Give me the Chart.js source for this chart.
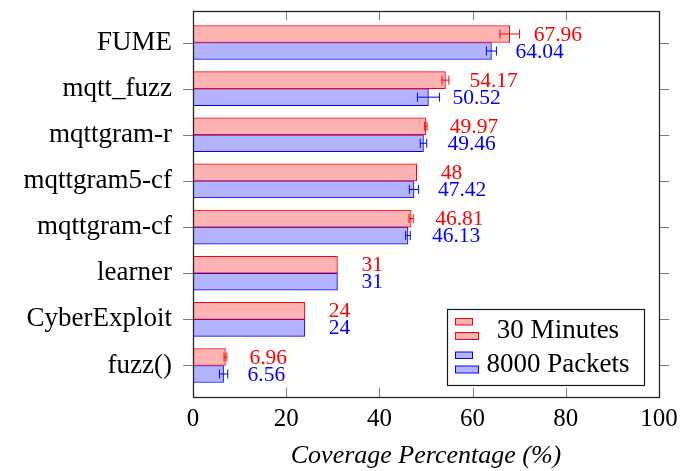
<!DOCTYPE html>
<html>
<head>
<meta charset="utf-8">
<script src="https://cdn.jsdelivr.net/npm/chart.js@4/dist/chart.umd.min.js"></script>
<style>
  html, body { margin: 0; padding: 0; background: #ffffff; }
  #wrap { width: 681px; height: 471px; position: relative; }
</style>
</head>
<body>
<div id="wrap"><canvas id="c" width="681" height="471"></canvas></div>
<script>
const categories = ['FUME', 'mqtt_fuzz', 'mqttgram-r', 'mqttgram5-cf', 'mqttgram-cf', 'learner', 'CyberExploit', 'fuzz()'];
const minutes30 = [67.96, 54.17, 49.97, 48, 46.81, 31, 24, 6.96];
const packets8000 = [64.04, 50.52, 49.46, 47.42, 46.13, 31, 24, 6.56];
const minutes30Err = [2.1, 0.75, 0.25, 0, 0.45, 0, 0, 0.3];
const packets8000Err = [1.07, 2.36, 0.7, 1.0, 0.5, 0, 0, 0.9];
const xTickValues = [0, 20, 40, 60, 80, 100];
const seriesNames = ['30 Minutes', '8000 Packets'];

const SERIF = "'Liberation Serif', 'Times New Roman', serif";
const RED = '#ff0000', RED_FILL = '#ffb3b3';
const BLUE = '#0000ff', BLUE_FILL = '#b3b3ff';

const toPoints = arr => arr.map((v, i) => ({ x: v, y: i }));

const frameAndTicks = {
  id: 'frameAndTicks',
  afterDatasetsDraw(chart) {
    const { ctx, chartArea: a, scales } = chart;
    const xs = scales.x, ys = scales.y;
    ctx.save();
    ctx.strokeStyle = '#7f7f7f';
    ctx.lineWidth = 1;
    ctx.beginPath();
    xTickValues.forEach(v => {
      const px = Math.round(xs.getPixelForValue(v)) + 0.5;
      ctx.moveTo(px, a.bottom); ctx.lineTo(px, a.bottom - 9);
      ctx.moveTo(px, a.top); ctx.lineTo(px, a.top + 9);
    });
    categories.forEach((c, i) => {
      const py = Math.round(ys.getPixelForValue(i)) + 0.5;
      ctx.moveTo(a.left - 10, py); ctx.lineTo(a.left, py);
      ctx.moveTo(a.right, py); ctx.lineTo(a.right + 10, py);
    });
    ctx.stroke();
    ctx.strokeStyle = '#262626';
    ctx.lineWidth = 1.3;
    ctx.strokeRect(Math.round(a.left) + 0.5, Math.round(a.top) + 0.5,
                   Math.round(a.right - a.left), Math.round(a.bottom - a.top));
    ctx.restore();
  }
};

const errorsAndLabels = {
  id: 'errorsAndLabels',
  afterDatasetsDraw(chart) {
    const { ctx, scales } = chart;
    const xs = scales.x;
    const errs = [minutes30Err, packets8000Err];
    const vals = [minutes30, packets8000];
    const cols = [RED, BLUE];
    ctx.save();
    chart.data.datasets.forEach((ds, di) => {
      const meta = chart.getDatasetMeta(di);
      meta.data.forEach((el, i) => {
        const v = vals[di][i], e = errs[di][i];
        const cy = el.y;
        ctx.strokeStyle = cols[di];
        ctx.lineWidth = 1;
        if (e > 0) {
          const x1 = xs.getPixelForValue(v - e), x2 = xs.getPixelForValue(v + e);
          ctx.beginPath();
          ctx.moveTo(x1, cy); ctx.lineTo(x2, cy);
          ctx.moveTo(x1, cy - 4.5); ctx.lineTo(x1, cy + 4.5);
          ctx.moveTo(x2, cy - 4.5); ctx.lineTo(x2, cy + 4.5);
          ctx.stroke();
        }
        ctx.fillStyle = cols[di];
        ctx.font = "21.5px " + SERIF;
        ctx.textAlign = 'left';
        ctx.textBaseline = 'middle';
        ctx.fillText(String(v), xs.getPixelForValue(v) + 24, cy + 1);
      });
    });
    ctx.restore();
  }
};

const boxLegend = {
  id: 'boxLegend',
  afterDraw(chart) {
    const { ctx } = chart;
    ctx.save();
    const bx = 447.5, by = 309.5, bw = 197, bh = 76;
    ctx.fillStyle = '#ffffff';
    ctx.fillRect(bx, by, bw, bh);
    ctx.strokeStyle = '#1a1a1a';
    ctx.lineWidth = 1.2;
    ctx.strokeRect(bx, by, bw, bh);
    const entries = [
      { name: seriesNames[0], stroke: RED, fill: RED_FILL, y: 318 },
      { name: seriesNames[1], stroke: BLUE, fill: BLUE_FILL, y: 351.5 }
    ];
    entries.forEach(en => {
      ctx.fillStyle = en.fill;
      ctx.strokeStyle = en.stroke;
      ctx.lineWidth = 1;
      ctx.fillRect(455.5, en.y + 0.5, 17, 6.5);
      ctx.strokeRect(455.5, en.y + 0.5, 17, 6.5);
      ctx.fillRect(455.5, en.y + 14.5, 23, 7);
      ctx.strokeRect(455.5, en.y + 14.5, 23, 7);
      ctx.fillStyle = '#000000';
      ctx.font = "27px " + SERIF;
      ctx.textAlign = 'center';
      ctx.textBaseline = 'alphabetic';
      ctx.fillText(en.name, 558, en.y + 20);
    });
    ctx.restore();
  }
};

new Chart(document.getElementById('c'), {
  type: 'bar',
  data: {
    datasets: [
      { label: seriesNames[0], data: toPoints(minutes30), backgroundColor: RED_FILL, borderColor: RED,
        borderWidth: 1, borderSkipped: false, barThickness: 17 },
      { label: seriesNames[1], data: toPoints(packets8000), backgroundColor: BLUE_FILL, borderColor: BLUE,
        borderWidth: 1, borderSkipped: false, barThickness: 17 }
    ]
  },
  options: {
    indexAxis: 'y',
    responsive: false,
    animation: false,
    layout: { padding: { left: 0, right: 22, top: 11, bottom: 0 } },
    plugins: { legend: { display: false }, tooltip: { enabled: false } },
    scales: {
      x: {
        type: 'linear', position: 'bottom', min: 0, max: 100,
        grid: { display: false, drawTicks: false },
        border: { display: false },
        afterBuildTicks(s) { s.ticks = xTickValues.map(v => ({ value: v })); },
        afterFit(s) { s.height = 74; s.paddingLeft = 0; s.paddingRight = 0; },
        ticks: { color: '#000', padding: 7, font: { family: SERIF, size: 25 }, maxRotation: 0 },
        title: { display: true, text: 'Coverage Percentage (%)', color: '#000',
                 font: { family: SERIF, size: 26, style: 'italic', lineHeight: 1 }, padding: { top: 0, bottom: 2 } }
      },
      y: {
        type: 'linear', position: 'left', min: -0.683, max: 7.683, reverse: true, offset: false,
        grid: { display: false, drawTicks: false, offset: false },
        border: { display: false },
        afterFit(s) { s.width = 193; s.paddingTop = 0; s.paddingBottom = 0; },
        ticks: {
          stepSize: 1, includeBounds: false, autoSkip: false, padding: 21, color: '#000',
          font: { family: SERIF, size: 27 },
          callback: (v) => (Number.isInteger(v) && v >= 0 && v < categories.length) ? categories[v] : ''
        }
      }
    }
  },
  plugins: [frameAndTicks, errorsAndLabels, boxLegend]
});
</script>
</body>
</html>
